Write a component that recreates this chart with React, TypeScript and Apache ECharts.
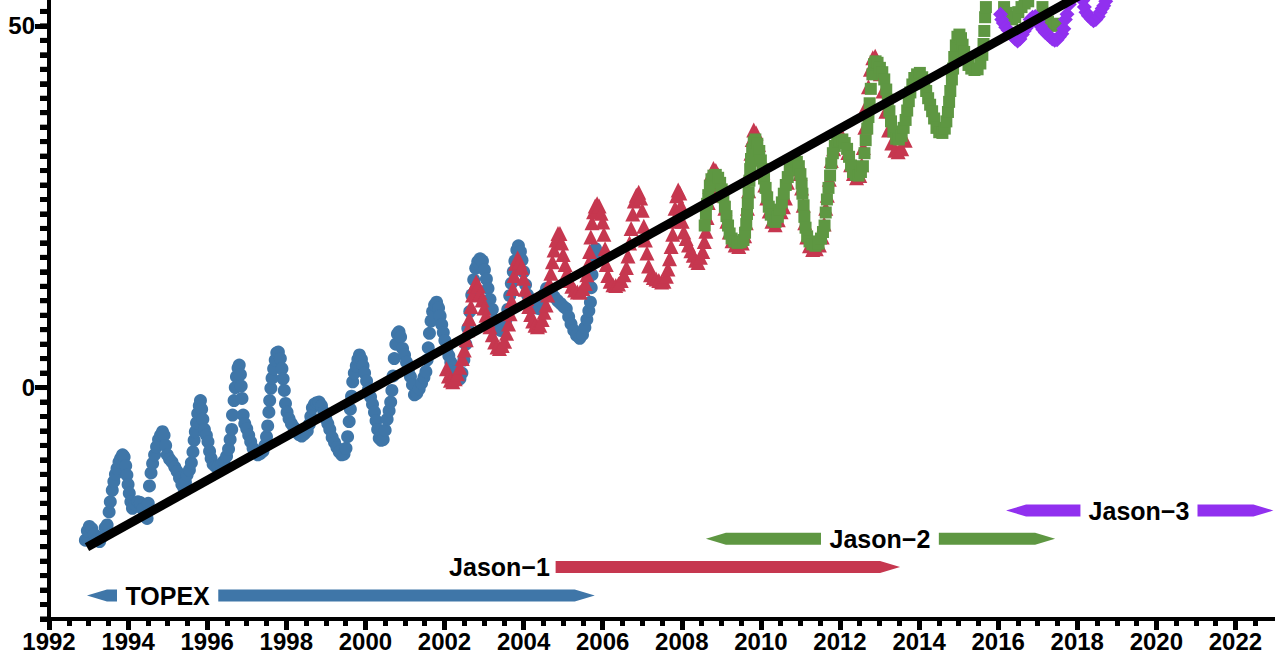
import React, { useEffect, useRef } from "react";
import * as echarts from "echarts";

// ---------- data (year, sea level change) ----------
const TOPEX: number[][] = [
[1992.92,-21.1],[1992.97,-19.8],[1993.02,-19.2],[1993.08,-19.5],[1993.14,-20.3],[1993.21,-21.0],[1993.28,-21.3],[1993.35,-20.6],[1993.42,-19.4],[1993.47,-19.0],[1993.52,-17.2],[1993.55,-15.8],[1993.60,-14.2],[1993.64,-13.0],[1993.68,-12.0],[1993.72,-11.2],[1993.77,-10.3],[1993.81,-9.8],[1993.86,-9.3],[1993.90,-9.6],[1993.94,-10.8],[1993.97,-12.1],[1994.00,-13.4],[1994.03,-14.6],[1994.07,-15.8],[1994.11,-16.7],[1994.18,-16.2],[1994.25,-15.8],[1994.31,-15.9],[1994.37,-16.8],[1994.43,-17.7],[1994.48,-18.1],[1994.51,-16.0],[1994.54,-13.6],[1994.58,-11.8],[1994.62,-10.5],[1994.67,-9.3],[1994.72,-8.2],[1994.77,-7.2],[1994.82,-6.6],[1994.87,-6.1],[1994.91,-6.6],[1994.95,-8.0],[1994.99,-9.3],[1995.05,-9.9],[1995.11,-10.3],[1995.18,-11.0],[1995.24,-11.6],[1995.30,-12.5],[1995.36,-13.4],[1995.41,-13.9],[1995.45,-13.1],[1995.49,-12.1],[1995.55,-11.4],[1995.60,-10.4],[1995.64,-8.9],[1995.67,-7.3],[1995.70,-6.1],[1995.73,-4.9],[1995.76,-3.6],[1995.80,-2.5],[1995.83,-1.8],[1995.86,-3.0],[1995.89,-4.4],[1995.93,-5.8],[1995.98,-6.6],[1996.02,-7.5],[1996.06,-8.8],[1996.10,-9.8],[1996.15,-10.6],[1996.21,-10.9],[1996.28,-10.9],[1996.35,-10.7],[1996.42,-10.2],[1996.49,-9.5],[1996.54,-8.5],[1996.58,-7.2],[1996.62,-5.8],[1996.64,-3.8],[1996.68,-1.8],[1996.71,0.0],[1996.74,1.5],[1996.78,2.7],[1996.81,3.1],[1996.84,1.8],[1996.86,0.2],[1996.88,-1.5],[1996.91,-3.8],[1996.95,-5.0],[1997.00,-5.7],[1997.05,-6.6],[1997.10,-7.5],[1997.16,-8.4],[1997.22,-9.0],[1997.28,-9.3],[1997.35,-9.1],[1997.41,-8.8],[1997.46,-8.0],[1997.50,-6.8],[1997.53,-5.3],[1997.56,-3.4],[1997.58,-1.8],[1997.61,-0.1],[1997.64,1.3],[1997.68,2.6],[1997.72,3.8],[1997.76,4.8],[1997.80,4.9],[1997.85,4.0],[1997.89,2.6],[1997.92,1.2],[1997.95,-0.4],[1997.98,-2.2],[1998.02,-3.4],[1998.07,-4.3],[1998.13,-5.0],[1998.19,-5.5],[1998.25,-5.9],[1998.32,-6.5],[1998.39,-6.7],[1998.46,-6.4],[1998.53,-6.0],[1998.58,-5.1],[1998.62,-4.0],[1998.66,-2.8],[1998.71,-2.3],[1998.77,-2.1],[1998.83,-2.0],[1998.89,-2.5],[1998.95,-3.4],[1999.00,-4.3],[1999.05,-5.0],[1999.10,-5.8],[1999.16,-6.9],[1999.22,-7.6],[1999.28,-8.3],[1999.34,-8.9],[1999.40,-9.3],[1999.46,-9.2],[1999.51,-8.4],[1999.55,-6.8],[1999.59,-4.7],[1999.62,-3.0],[1999.65,-1.2],[1999.68,0.8],[1999.72,2.0],[1999.77,3.0],[1999.81,3.9],[1999.85,4.5],[1999.90,3.9],[1999.94,3.0],[1999.98,2.0],[2000.03,0.9],[2000.08,-0.2],[2000.13,-1.3],[2000.18,-2.3],[2000.23,-3.4],[2000.27,-4.6],[2000.31,-5.8],[2000.35,-7.0],[2000.40,-7.3],[2000.45,-7.2],[2000.50,-5.9],[2000.55,-4.4],[2000.60,-3.2],[2000.64,-2.0],[2000.67,-0.4],[2000.70,1.6],[2000.73,4.0],[2000.77,6.0],[2000.81,7.4],[2000.85,7.7],[2000.89,7.0],[2000.94,5.4],[2000.99,4.5],[2001.04,3.5],[2001.09,2.5],[2001.14,1.5],[2001.19,0.4],[2001.24,-1.0],[2001.30,-0.8],[2001.36,-0.2],[2001.42,0.6],[2001.48,1.4],[2001.53,2.2],[2001.56,3.8],[2001.59,5.5],[2001.62,7.5],[2001.66,9.2],[2001.70,10.5],[2001.75,11.4],[2001.80,11.8],[2001.85,11.0],[2001.89,9.9],[2001.93,8.7],[2001.97,7.6],[2002.01,6.5],[2002.06,5.4],[2002.11,4.4],[2002.16,3.5],[2002.22,2.8],[2002.28,2.2],[2002.34,1.5],[2002.39,1.2],[2002.44,2.0],[2002.49,3.8],[2002.54,6.0],[2002.59,8.2],[2002.64,10.5],[2002.69,12.8],[2002.74,14.9],[2002.79,16.5],[2002.84,17.4],[2002.90,17.8],[2002.96,17.5],[2003.01,16.3],[2003.06,15.0],[2003.10,13.7],[2003.15,12.2],[2003.21,10.8],[2003.28,9.3],[2003.35,8.1],[2003.42,7.9],[2003.49,8.3],[2003.55,9.3],[2003.60,10.8],[2003.65,12.7],[2003.69,14.4],[2003.74,16.0],[2003.78,17.5],[2003.83,19.0],[2003.87,19.6],[2003.92,18.8],[2003.96,17.6],[2004.00,16.0],[2004.05,14.2],[2004.10,12.8],[2004.17,11.9],[2004.24,11.4],[2004.32,11.0],[2004.40,10.9],[2004.46,11.8],[2004.52,12.9],[2004.58,13.7],[2004.64,13.6],[2004.71,13.0],[2004.78,12.5],[2004.86,12.0],[2004.94,11.6],[2005.01,11.2],[2005.08,10.9],[2005.14,9.8],[2005.20,8.8],[2005.27,7.9],[2005.34,7.2],[2005.42,6.8],[2005.49,7.3],[2005.55,8.3],[2005.60,9.4],[2005.65,10.6],[2005.69,11.8],[2005.71,13.8],[2005.73,15.6],[2005.76,17.2],[2005.79,18.4],[2005.82,19.2]
];

const JASON1: number[][] = [
[2002.05,2.6],[2002.10,1.6],[2002.15,1.0],[2002.21,0.8],[2002.27,1.2],[2002.33,1.9],[2002.39,2.8],[2002.45,4.0],[2002.50,5.2],[2002.55,6.6],[2002.59,8.0],[2002.63,9.5],[2002.67,11.2],[2002.71,12.8],[2002.75,14.0],[2002.80,14.6],[2002.85,14.1],[2002.90,13.1],[2002.95,12.1],[2003.00,11.0],[2003.05,10.0],[2003.10,9.2],[2003.15,8.4],[2003.21,7.3],[2003.27,6.3],[2003.33,5.6],[2003.39,5.4],[2003.46,5.8],[2003.52,6.4],[2003.57,7.5],[2003.62,8.8],[2003.66,10.2],[2003.70,12.0],[2003.73,13.7],[2003.76,15.5],[2003.80,17.2],[2003.85,17.9],[2003.90,17.4],[2003.95,16.6],[2004.00,15.1],[2004.04,13.6],[2004.08,12.3],[2004.13,11.2],[2004.18,10.1],[2004.23,9.2],[2004.29,8.6],[2004.35,8.4],[2004.41,8.6],[2004.47,9.4],[2004.52,10.4],[2004.57,11.4],[2004.61,12.8],[2004.65,14.4],[2004.69,15.8],[2004.73,17.4],[2004.77,19.0],[2004.82,20.4],[2004.87,21.3],[2004.92,21.3],[2004.96,20.0],[2005.00,18.4],[2005.05,17.0],[2005.10,15.9],[2005.16,14.8],[2005.22,14.0],[2005.29,13.5],[2005.36,13.2],[2005.43,13.2],[2005.50,13.7],[2005.56,14.4],[2005.60,15.6],[2005.64,17.2],[2005.67,18.8],[2005.70,20.8],[2005.73,22.8],[2005.77,24.3],[2005.81,25.1],[2005.86,25.4],[2005.91,25.1],[2005.96,24.1],[2006.00,22.9],[2006.03,21.2],[2006.06,19.2],[2006.09,17.0],[2006.13,15.5],[2006.19,14.7],[2006.26,14.2],[2006.33,14.1],[2006.40,14.3],[2006.47,14.8],[2006.54,15.6],[2006.60,16.6],[2006.64,18.2],[2006.68,20.0],[2006.72,22.0],[2006.76,24.0],[2006.80,25.8],[2006.85,26.6],[2006.91,27.0],[2006.96,26.2],[2007.00,24.5],[2007.04,22.3],[2007.08,20.4],[2007.12,18.6],[2007.16,16.8],[2007.21,15.6],[2007.28,15.2],[2007.35,15.0],[2007.42,14.8],[2007.49,14.6],[2007.55,14.7],[2007.61,15.4],[2007.65,16.4],[2007.69,17.8],[2007.73,19.5],[2007.77,21.2],[2007.80,23.0],[2007.83,24.8],[2007.87,26.5],[2007.91,27.3],[2007.95,26.9],[2007.98,25.2],[2008.01,23.0],[2008.05,21.5],[2008.11,20.6],[2008.17,19.7],[2008.23,18.9],[2008.29,18.3],[2008.35,17.6],[2008.41,17.3],[2008.47,18.0],[2008.53,18.8],[2008.57,20.2],[2008.61,21.6],[2008.64,23.5],[2008.67,25.6],[2008.71,27.8],[2008.75,29.6],[2008.80,30.3],[2008.86,30.0],[2008.92,29.4],[2008.98,28.2],[2009.04,26.6],[2009.09,24.8],[2009.14,23.0],[2009.20,21.5],[2009.27,20.3],[2009.35,19.7],[2009.44,19.5],[2009.53,20.0],[2009.59,21.0],[2009.63,22.8],[2009.66,24.8],[2009.69,27.2],[2009.72,29.8],[2009.75,32.4],[2009.78,34.3],[2009.82,35.6],[2009.88,35.2],[2009.94,33.6],[2010.00,31.6],[2010.05,29.8],[2010.10,28.0],[2010.15,26.2],[2010.21,24.4],[2010.28,23.0],[2010.36,22.5],[2010.44,23.2],[2010.51,24.3],[2010.57,25.0],[2010.62,26.2],[2010.67,28.4],[2010.73,30.2],[2010.80,31.4],[2010.87,31.8],[2010.94,31.2],[2010.99,29.6],[2011.03,27.6],[2011.07,25.2],[2011.11,22.8],[2011.16,20.8],[2011.23,19.6],[2011.31,19.1],[2011.40,19.2],[2011.48,19.7],[2011.55,20.8],[2011.60,22.6],[2011.64,24.8],[2011.68,26.6],[2011.73,28.8],[2011.78,31.4],[2011.84,33.0],[2011.91,34.0],[2011.98,34.6],[2012.06,34.7],[2012.13,34.0],[2012.20,32.5],[2012.27,30.8],[2012.34,29.6],[2012.42,29.0],[2012.50,29.3],[2012.55,30.8],[2012.59,33.2],[2012.63,36.0],[2012.67,39.0],[2012.72,41.6],[2012.77,44.0],[2012.83,45.6],[2012.89,45.8],[2012.95,45.0],[2013.02,43.4],[2013.09,41.0],[2013.16,38.2],[2013.23,35.6],[2013.31,33.8],[2013.39,32.8],[2013.47,32.6],[2013.56,33.0],[2013.65,34.2]
];

const JASON2: number[][] = [
[2008.58,22.4],[2008.61,24.0],[2008.64,25.4],[2008.67,26.6],[2008.71,27.9],[2008.75,28.8],[2008.80,29.3],[2008.86,29.4],[2008.92,29.0],[2008.97,28.3],[2009.01,27.4],[2009.05,26.3],[2009.09,25.0],[2009.13,23.7],[2009.17,22.4],[2009.21,21.3],[2009.26,20.6],[2009.33,20.2],[2009.41,20.0],[2009.49,20.1],[2009.56,20.4],[2009.60,21.4],[2009.63,22.6],[2009.65,24.0],[2009.67,25.5],[2009.69,27.0],[2009.71,28.6],[2009.73,30.2],[2009.75,31.6],[2009.78,32.9],[2009.82,33.9],[2009.86,34.3],[2009.91,33.7],[2009.96,32.7],[2010.00,31.4],[2010.04,30.2],[2010.08,28.9],[2010.12,27.6],[2010.16,26.3],[2010.20,25.0],[2010.25,23.9],[2010.31,23.1],[2010.37,22.9],[2010.43,23.6],[2010.48,24.6],[2010.53,25.6],[2010.58,26.8],[2010.63,28.0],[2010.68,29.1],[2010.73,30.1],[2010.79,30.9],[2010.85,31.3],[2010.91,31.2],[2010.96,30.6],[2011.00,29.5],[2011.03,28.2],[2011.05,26.8],[2011.08,25.2],[2011.10,23.6],[2011.13,22.1],[2011.17,20.9],[2011.23,20.2],[2011.30,19.8],[2011.38,19.6],[2011.46,19.9],[2011.52,20.6],[2011.57,21.5],[2011.61,22.4],[2011.64,24.2],[2011.67,26.0],[2011.71,27.6],[2011.75,29.3],[2011.78,31.0],[2011.82,32.4],[2011.87,33.4],[2011.93,34.0],[2011.99,34.2],[2012.06,34.3],[2012.12,33.8],[2012.18,33.0],[2012.23,31.9],[2012.28,30.7],[2012.33,29.8],[2012.40,29.4],[2012.47,29.3],[2012.53,29.8],[2012.58,30.6],[2012.62,32.4],[2012.65,34.2],[2012.69,35.8],[2012.72,37.4],[2012.75,39.3],[2012.78,41.3],[2012.82,43.3],[2012.86,44.7],[2012.90,45.1],[2012.95,44.9],[2013.01,44.2],[2013.07,43.6],[2013.12,42.6],[2013.17,41.2],[2013.21,39.8],[2013.25,38.2],[2013.29,36.8],[2013.35,35.4],[2013.42,34.4],[2013.49,34.3],[2013.56,34.8],[2013.61,35.9],[2013.66,37.0],[2013.70,38.3],[2013.74,39.6],[2013.78,40.8],[2013.83,41.9],[2013.88,42.8],[2013.95,43.3],[2014.02,43.5],[2014.08,42.9],[2014.13,42.0],[2014.18,41.0],[2014.23,40.0],[2014.28,39.1],[2014.33,38.2],[2014.38,37.2],[2014.44,35.9],[2014.51,35.3],[2014.59,35.2],[2014.65,35.8],[2014.69,36.8],[2014.73,38.1],[2014.76,39.5],[2014.79,41.0],[2014.83,42.6],[2014.86,44.1],[2014.89,45.7],[2014.93,47.3],[2014.97,48.5],[2015.02,48.8],[2015.06,48.3],[2015.10,47.4],[2015.14,46.4],[2015.19,45.4],[2015.25,44.6],[2015.32,44.1],[2015.40,43.9],[2015.48,44.0],[2015.55,44.8],[2015.60,46.0],[2015.63,47.5],[2015.65,49.3],[2015.67,51.2],[2015.69,52.6],[2015.72,53.6],[2015.80,55.0],[2015.92,55.6],[2016.02,54.9],[2016.09,53.6],[2016.15,52.6],[2016.22,51.8],[2016.29,51.2],[2016.35,50.9],[2016.43,51.2],[2016.51,51.9],[2016.59,52.6],[2016.67,53.1],[2016.76,53.4],[2016.85,54.3],[2016.96,54.8],[2017.05,53.8],[2017.12,52.6],[2017.19,51.5],[2017.26,50.6],[2017.34,50.1],[2017.42,50.0],[2017.50,50.3]
];

const JASON3: number[][] = [
[2016.06,51.6],[2016.09,50.9],[2016.13,50.4],[2016.19,49.8],[2016.25,49.4],[2016.31,49.0],[2016.37,48.6],[2016.43,48.2],[2016.49,47.9],[2016.55,48.2],[2016.61,48.8],[2016.66,49.3],[2016.71,49.7],[2016.76,50.1],[2016.81,50.9],[2016.87,51.2],[2016.94,51.3],[2017.01,50.6],[2017.07,50.0],[2017.13,49.5],[2017.19,49.1],[2017.25,48.8],[2017.31,48.5],[2017.37,48.2],[2017.43,48.0],[2017.49,48.1],[2017.55,48.5],[2017.61,48.9],[2017.66,49.6],[2017.70,50.9],[2017.74,51.6],[2017.80,53.0],[2017.88,54.3],[2017.98,54.8],[2018.08,54.4],[2018.14,53.5],[2018.18,52.6],[2018.22,51.9],[2018.28,51.4],[2018.35,51.0],[2018.41,50.7],[2018.47,50.9],[2018.53,51.3],[2018.58,51.9],[2018.63,52.4],[2018.67,52.8],[2018.72,53.4]
];

const TREND_X = [1992.96, 2018.5];
const TREND_Y = [-22.07, 55.55];

// mission spans (years) and the level (value) at which each bar sits
const MISSION_NAMES = ["TOPEX", "Jason\u22121", "Jason\u22122", "Jason\u22123"];
const MISSION_START = [1992.96, 2001.97, 2008.61, 2016.2];
const MISSION_END = [2005.8, 2013.52, 2017.44, 2022.96];
const LABEL_FROM = [1993.72, 2001.97, 2011.52, 2018.08];
const LABEL_TO = [1996.28, 2004.81, 2014.5, 2021.04];
const MISSION_LEVEL = [-28.76, -24.8, -20.9, -17.0];

// axis ticks
const X_LABELS = [1992, 1994, 1996, 1998, 2000, 2002, 2004, 2006, 2008, 2010, 2012, 2014, 2016, 2018, 2020, 2022];
const Y_LABELS = [0, 50];
const X_MINOR: number[] = [];
for (let v = 1992; v <= 2022.6; v += 0.5) X_MINOR.push(v);
const Y_MINOR: number[] = [];
for (let v = -32; v <= 52; v += 2) Y_MINOR.push(v);

const BLUE = "#3f76a8";
const RED = "#c6374f";
const GREEN = "#5e9742";
const PURPLE = "#9130ef";
const MISSION_COLORS = [BLUE, RED, GREEN, PURPLE];

const FONT = "Liberation Sans";

export default function App() {
  const ref = useRef<HTMLDivElement>(null);
  useEffect(() => {
    if (!ref.current) return;
    const chart = echarts.init(ref.current, undefined, { renderer: "svg" });
    const X_MIN = 1992, X_MAX = 2023, Y_MIN = -32.0, Y_MAX = 53.58;
    const tickLabel = {
      fontFamily: FONT, fontWeight: "bold" as const, fontSize: 24, color: "#000",
      formatter: (v: number) => String(Math.round(v)),
    };
    const missionData = MISSION_START.map((s, i) => [s, MISSION_END[i], LABEL_FROM[i], LABEL_TO[i], MISSION_LEVEL[i], i]);
    chart.setOption({
      animation: false,
      backgroundColor: "#fff",
      grid: { left: 49, right: 0, top: 0, bottom: 23.7, containLabel: false },
      xAxis: [
        {
          type: "value", min: X_MIN, max: X_MAX, position: "bottom",
          axisLine: { show: true, onZero: false, lineStyle: { color: "#000", width: 4 } },
          axisTick: { show: true, customValues: X_MINOR, length: 7, lineStyle: { color: "#000", width: 5 } },
          axisLabel: { show: false },
          splitLine: { show: false },
        },
        {
          type: "value", min: X_MIN, max: X_MAX, position: "bottom",
          axisLine: { show: false, onZero: false },
          axisTick: { show: true, customValues: X_LABELS, length: 11, lineStyle: { color: "#000", width: 5 } },
          axisLabel: { show: true, customValues: X_LABELS, margin: 10, ...tickLabel },
          splitLine: { show: false },
        },
      ],
      yAxis: [
        {
          type: "value", min: Y_MIN, max: Y_MAX, position: "left",
          axisLine: { show: true, onZero: false, lineStyle: { color: "#000", width: 4 } },
          axisTick: { show: true, customValues: Y_MINOR, length: 9, lineStyle: { color: "#000", width: 5 } },
          axisLabel: { show: false },
          splitLine: { show: false },
        },
        {
          type: "value", min: Y_MIN, max: Y_MAX, position: "left",
          axisLine: { show: false, onZero: false },
          axisTick: { show: true, customValues: Y_LABELS, length: 14, lineStyle: { color: "#000", width: 5 } },
          axisLabel: { show: true, customValues: Y_LABELS, margin: 14, ...tickLabel },
          splitLine: { show: false },
        },
      ],
      series: [
        { type: "scatter", data: TOPEX, symbol: "circle", symbolSize: 13, itemStyle: { color: BLUE, opacity: 1 }, silent: true, z: 2 },
        { type: "scatter", data: JASON1, symbol: "triangle", symbolSize: 15, itemStyle: { color: RED, opacity: 1 }, silent: true, z: 2 },
        { type: "scatter", data: JASON2, symbol: "rect", symbolSize: 12, itemStyle: { color: GREEN, opacity: 1 }, silent: true, z: 2 },
        { type: "scatter", data: JASON3, symbol: "diamond", symbolSize: 15, itemStyle: { color: PURPLE, opacity: 1 }, silent: true, z: 2 },
        {
          type: "line", data: TREND_X.map((x, i) => [x, TREND_Y[i]]), symbol: "none", silent: true, z: 4,
          lineStyle: { color: "#000", width: 9, cap: "butt" }, clip: true,
        },
        {
          // minor tick marks on the value axis, placed through the axis scale
          type: "custom", data: Y_MINOR.map((v) => [X_MIN, v]), silent: true, z: 6, clip: false,
          renderItem: (params: any, api: any) => {
            const [x, y] = api.coord([api.value(0), api.value(1)]);
            return { type: "rect", shape: { x: x - 9, y: y - 2.5, width: 9, height: 5 }, style: { fill: "#000" } };
          },
        },
        {
          type: "custom", data: missionData, silent: true, z: 5, clip: false,
          encode: { x: [0, 1, 2, 3], y: 4 },
          renderItem: (params: any, api: any) => {
            const i = api.value(5) as number;
            const lvl = api.value(4) as number;
            const [xs, yc] = api.coord([api.value(0), lvl]);
            const [xe] = api.coord([api.value(1), lvl]);
            const [xgf] = api.coord([api.value(2), lvl]);
            const [xgt] = api.coord([api.value(3), lvl]);
            const h = 12, ah = 20;
            const color = MISSION_COLORS[i];
            const children: any[] = [];
            if (xgf - xs > 1) {
              children.push({
                type: "polygon",
                shape: { points: [[xs, yc], [xs + ah, yc - h / 2], [xgf, yc - h / 2], [xgf, yc + h / 2], [xs + ah, yc + h / 2]] },
                style: { fill: color },
              });
            }
            children.push({
              type: "polygon",
              shape: { points: [[xgt, yc - h / 2], [xe - ah, yc - h / 2], [xe, yc], [xe - ah, yc + h / 2], [xgt, yc + h / 2]] },
              style: { fill: color },
            });
            children.push({
              type: "text", x: (xgf + xgt) / 2, y: yc,
              style: { text: MISSION_NAMES[i], fill: "#000", font: `bold 25px "${FONT}"`, align: "center", verticalAlign: "middle" },
            });
            return { type: "group", children };
          },
        },
      ],
    });
    return () => chart.dispose();
  }, []);
  return <div ref={ref} style={{ position: "fixed", left: 0, top: 0, width: 1275, height: 653, background: "#fff" }} />;
}
